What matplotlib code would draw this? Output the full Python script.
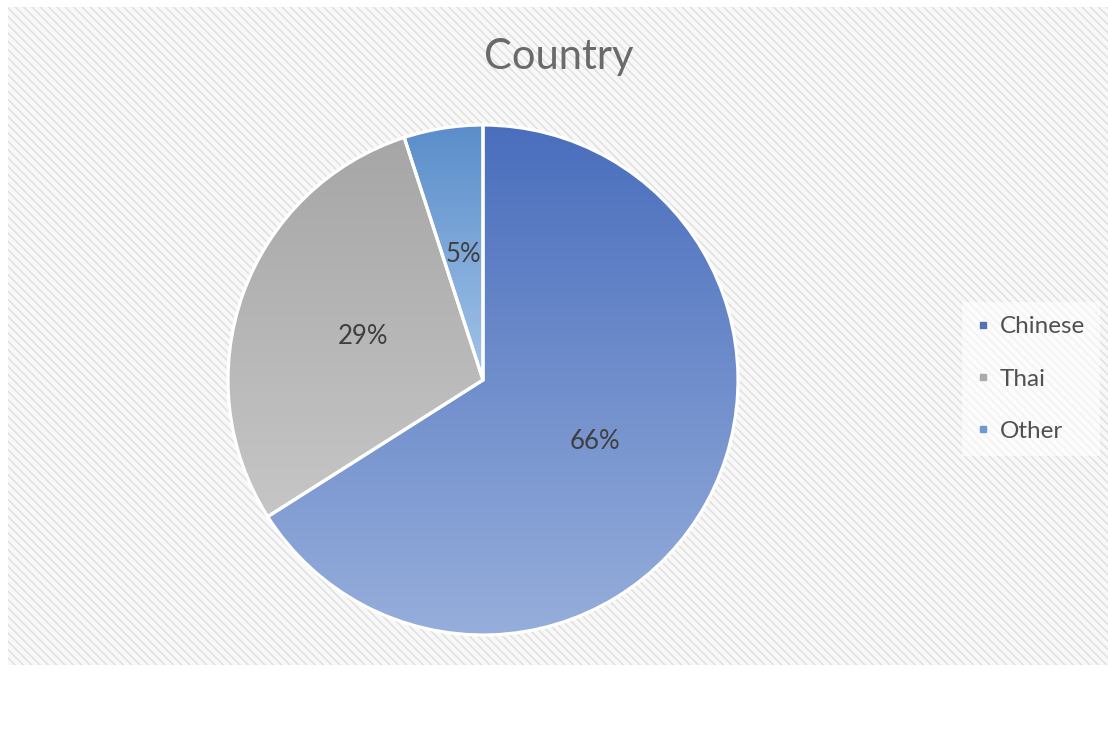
import numpy as np
import matplotlib
matplotlib.use("Agg")
import matplotlib.pyplot as plt
from matplotlib.patches import Rectangle
from matplotlib.lines import Line2D
from matplotlib.colors import LinearSegmentedColormap

# share of respondents by country
countries = ["Chinese", "Thai", "Other"]
shares = [66, 29, 5]

# top / bottom colours of each slice gradient
top_colors = ["#4A6EBD", "#A6A6A6", "#5A8DCA"]
bottom_colors = ["#96AEDB", "#C6C6C6", "#A2C4E8"]
legend_colors = ["#5470B5", "#ABABAB", "#6E9BCF"]

plt.rcParams["font.family"] = ["Lato", "DejaVu Sans"]
plt.rcParams["hatch.linewidth"] = 1.1

W, H = 1108, 746
fig = plt.figure(figsize=(W / 100, H / 100), dpi=100)
fig.patch.set_facecolor("white")

# striped chart area
bg = Rectangle((8 / W, (H - 665) / H), 1 - 8 / W, (665 - 7) / H,
               transform=fig.transFigure, facecolor="#F8F8F8",
               edgecolor="#E0E0E0", hatch="\\\\\\\\", linewidth=0, zorder=-5)
fig.patches.append(bg)

# pie axes: centre (483, 380), radius 255 px
cx, cy, r = 483, 380, 255
ax = fig.add_axes([(cx - r) / W, (H - cy - r) / H, 2 * r / W, 2 * r / H])
ax.set_facecolor("none")
ax.set_zorder(2)

wedges, texts, autotexts = ax.pie(
    shares, startangle=90, counterclock=False, radius=1,
    autopct="%1.0f%%", pctdistance=0.5,
    textprops=dict(fontsize=18.5, color="#3F3F3F"),
    wedgeprops=dict(linewidth=2.3, edgecolor="white"))

for w, c_top, c_bot in zip(wedges, top_colors, bottom_colors):
    ext = w.get_path().get_extents()
    cmap = LinearSegmentedColormap.from_list("g", [c_top, c_bot])
    grad = np.linspace(0, 1, 256).reshape(-1, 1)
    im = ax.imshow(grad, cmap=cmap, aspect="auto", origin="upper",
                   extent=(ext.x0, ext.x1, ext.y0, ext.y1), zorder=1)
    im.set_clip_path(w)
    w.set_facecolor("none")
    w.set_zorder(2)
    w.set_clip_on(False)

for t in autotexts:
    t.set_zorder(5)

ax.set_xlim(-1, 1)
ax.set_ylim(-1, 1)
ax.set_aspect("auto")
ax.axis("off")

fig.text(0.504, (H - 57) / H, "Country", ha="center", va="center",
         fontsize=30, color="#6A6A6A")

handles = [Line2D([], [], linestyle="none", marker="s", markersize=5,
                  markerfacecolor=c, markeredgecolor=c) for c in legend_colors]
leg = fig.legend(handles, countries, loc="center left",
                 bbox_to_anchor=(950 / W, (H - 379) / H),
                 fontsize=17.5, labelcolor="#505050", frameon=True,
                 handlelength=0.5, handletextpad=0.45, labelspacing=1.28,
                 borderpad=0.6, fancybox=False)
leg.get_frame().set_facecolor("white")
leg.get_frame().set_alpha(0.6)
leg.get_frame().set_edgecolor("none")

fig.savefig("out.png", dpi=100)
